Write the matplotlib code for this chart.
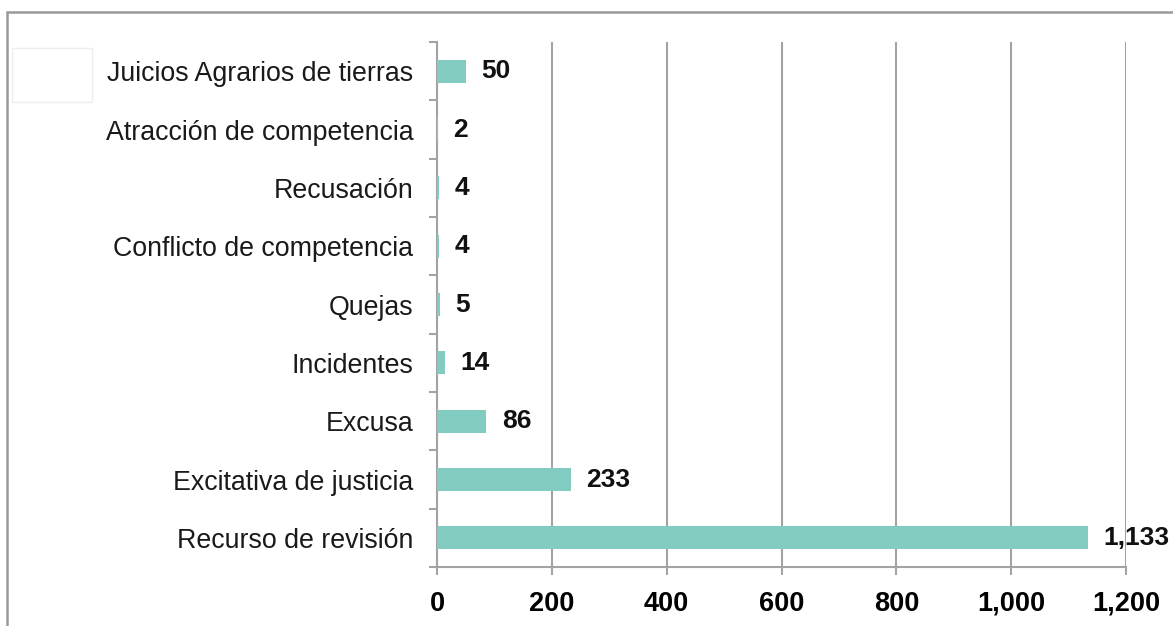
import matplotlib.pyplot as plt
from matplotlib.patches import Rectangle
from matplotlib.ticker import FuncFormatter
import numpy as np

categories = ["Recurso de revisión", "Excitativa de justicia", "Excusa", "Incidentes",
              "Quejas", "Conflicto de competencia", "Recusación",
              "Atracción de competencia", "Juicios Agrarios de tierras"]
values = [1133, 233, 86, 14, 5, 4, 4, 2, 50]
value_labels = ["1,133", "233", "86", "14", "5", "4", "4", "2", "50"]

plt.rcParams['font.family'] = ['Liberation Sans', 'DejaVu Sans']
grey = "#a3a3a3"

fig = plt.figure(figsize=(11.73, 6.26), dpi=100)
ax = fig.add_axes([0.3726, 0.0942, 0.5874, 0.8387])

y = np.arange(len(categories))
ax.barh(y, values, height=0.39, color="#82cbc1", zorder=3)

for yi, v, lab in zip(y, values, value_labels):
    ax.annotate(lab, (v, yi), xytext=(11, 0), textcoords="offset points",
                ha="left", va="center", fontsize=19, fontweight="bold", color="#111111")

ax.set_xlim(0, 1200)
ax.set_ylim(-0.5, len(categories) - 0.5)
ax.set_xticks(range(0, 1201, 200))
ax.xaxis.set_major_formatter(FuncFormatter(lambda v, p: f"{int(v):,}"))
ax.set_yticks(y)
ax.set_yticklabels(categories, fontsize=19.3, color="#1a1a1a")
ax.set_yticks(np.arange(-0.5, len(categories)), minor=True)
ax.tick_params(axis="y", which="major", length=0, pad=17)
ax.tick_params(axis="y", which="minor", length=6, width=1.5, color=grey, direction="out")
ax.tick_params(axis="x", length=6, width=1.5, color=grey, pad=11, labelsize=19.5)
for t in ax.get_xticklabels():
    t.set_fontweight("bold")

ax.grid(axis="x", color=grey, linewidth=1.5, zorder=0)
for s in ["top", "right"]:
    ax.spines[s].set_visible(False)
for s in ["left", "bottom"]:
    ax.spines[s].set_color(grey)
    ax.spines[s].set_linewidth(1.5)

# outer frame and empty legend box
fig.patches.append(Rectangle((7 / 1173, -0.1), 1.2, 1 - 12 / 626 + 0.1,
                             transform=fig.transFigure, fill=False,
                             edgecolor="#999999", linewidth=1.8, clip_on=False))
fig.patches.append(Rectangle((12 / 1173, 1 - 102 / 626), 80 / 1173, 54 / 626,
                             transform=fig.transFigure, facecolor="white",
                             edgecolor="#eeeeee", linewidth=1))

fig.savefig("out.png", dpi=100)
